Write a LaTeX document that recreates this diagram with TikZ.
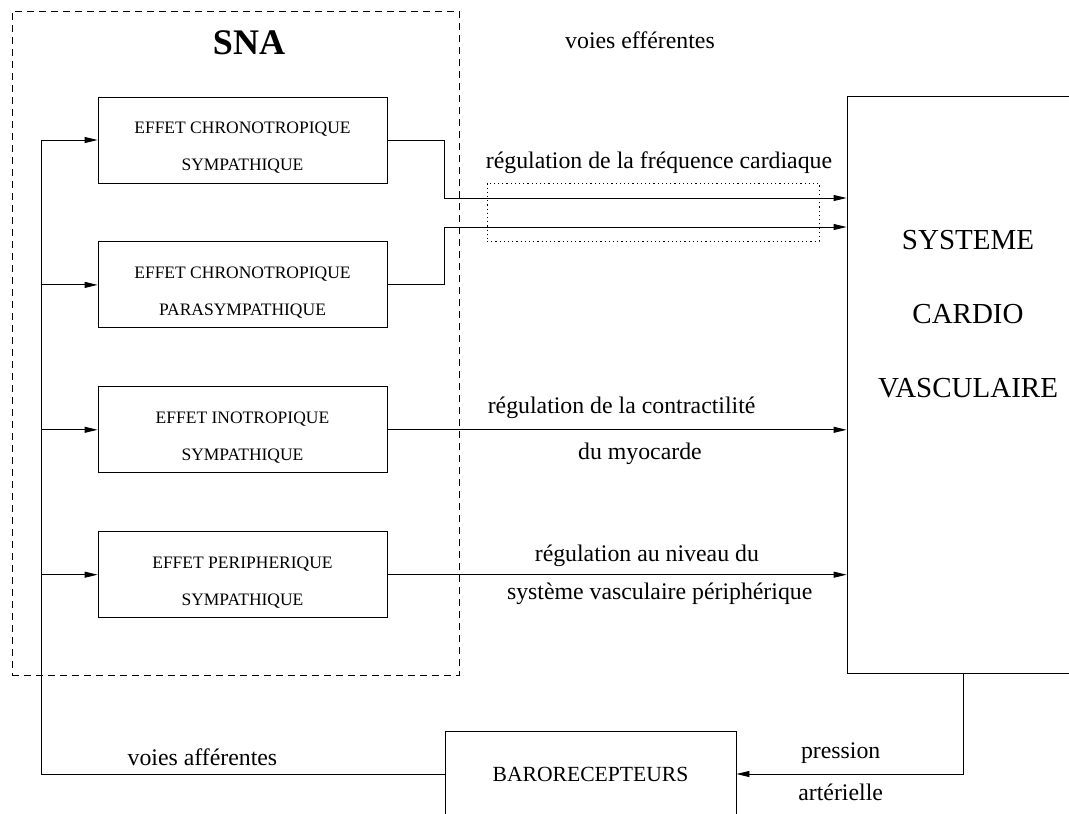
\documentclass[tikz,border=0pt]{standalone}
\usepackage{fontspec}
\setmainfont{Liberation Serif}
\usetikzlibrary{arrows.meta, positioning}
\newcommand{\hautligne}{\rule{0pt}{26.5pt}}

\begin{document}
\begin{tikzpicture}[
  x=1pt, y=-1pt,
  node distance=58pt and 14mm,
  line width=0.9pt,
  effet/.style={draw, align=center, minimum height=86pt, minimum width=289pt,
                inner sep=0pt, font=\fontsize{17.5}{37}\selectfont},
  grand/.style={draw, minimum height=577pt, minimum width=232pt},
  lbl/.style={inner sep=0pt, font=\fontsize{23.8}{36}\selectfont},
  arr/.style={-{Triangle[length=13pt, width=6pt]}}
]
  \useasboundingbox (0,0) rectangle (1069,814);

  % systeme nerveux autonome
  \node[draw, dash pattern=on 7pt off 5pt, minimum width=447pt, minimum height=664pt] (sna) at (235.5,343) {};
  \node[font=\fontsize{36}{40}\selectfont\bfseries, inner sep=0pt, below=20pt of sna.north, xshift=13.5pt] (snatitre) {SNA};

  \node[effet] (chrsym) at (242.5,140) {\hautligne EFFET CHRONOTROPIQUE\\SYMPATHIQUE};
  \node[effet, below=of chrsym] (chrpara) {\hautligne EFFET CHRONOTROPIQUE\\PARASYMPATHIQUE};
  \node[effet, below=of chrpara] (inosym) {\hautligne EFFET INOTROPIQUE\\SYMPATHIQUE};
  \node[effet, below=of inosym] (perisym) {\hautligne EFFET PERIPHERIQUE\\SYMPATHIQUE};

  % systeme cardio-vasculaire et barorecepteurs
  \node[grand] (scv) at (963,384.5) {};
  \node[font=\fontsize{29}{74}\selectfont, align=center, xshift=5pt] (scvtexte) at (scv.center |- 0,314) {SYSTEME\\CARDIO\\VASCULAIRE};
  \node[effet, font=\fontsize{21.6}{30}\selectfont, minimum width=291pt] (baro) at (590.5,774) {BARORECEPTEURS};

  \node[draw, dash pattern=on 1.2pt off 3pt, line width=0.8pt, minimum width=332pt, minimum height=58pt] (freq) at (653,212) {};
  \node[lbl, above=9pt of freq, xshift=6pt] (freqlbl) {régulation de la fréquence cardiaque};
  \node[lbl] (efferentes) at (640,40) {voies efférentes};

  \coordinate (bus) at (41,140);
  \coordinate (fc1) at (scv.west |- 0,198);
  \coordinate (fc2) at (scv.west |- 0,227);

  % voies afferentes
  \draw[arr] (baro.west) -| node[lbl, pos=0.3, above=7.5pt] {voies afférentes} (bus) -- (chrsym.west);
  \draw[arr] (bus |- chrpara.west) -- (chrpara.west);
  \draw[arr] (bus |- inosym.west) -- (inosym.west);
  \draw[arr] (bus |- perisym.west) -- (perisym.west);

  % voies efferentes
  \draw[arr] (chrsym.east) -- ++(57,0) |- (fc1);
  \draw[arr] (chrpara.east) -- ++(57,0) |- (fc2);
  \draw[arr] (inosym.east) -- node[lbl, pos=0.51, above=10.5pt] {régulation de la contractilité}
    node[lbl, pos=0.55, below=12.5pt] {du myocarde} (inosym.east -| scv.west);
  \draw[arr] (perisym.east) -- node[lbl, pos=0.565, above=7.5pt] {régulation au niveau du}
    node[lbl, pos=0.593, below=7.5pt] {système vasculaire périphérique} (perisym.east -| scv.west);
  \draw[arr] (scv.south) |- node[lbl, pos=0.77, above=9.5pt] {pression}
    node[lbl, pos=0.77, below=9.5pt] {artérielle} (baro.east);
\end{tikzpicture}
\end{document}
